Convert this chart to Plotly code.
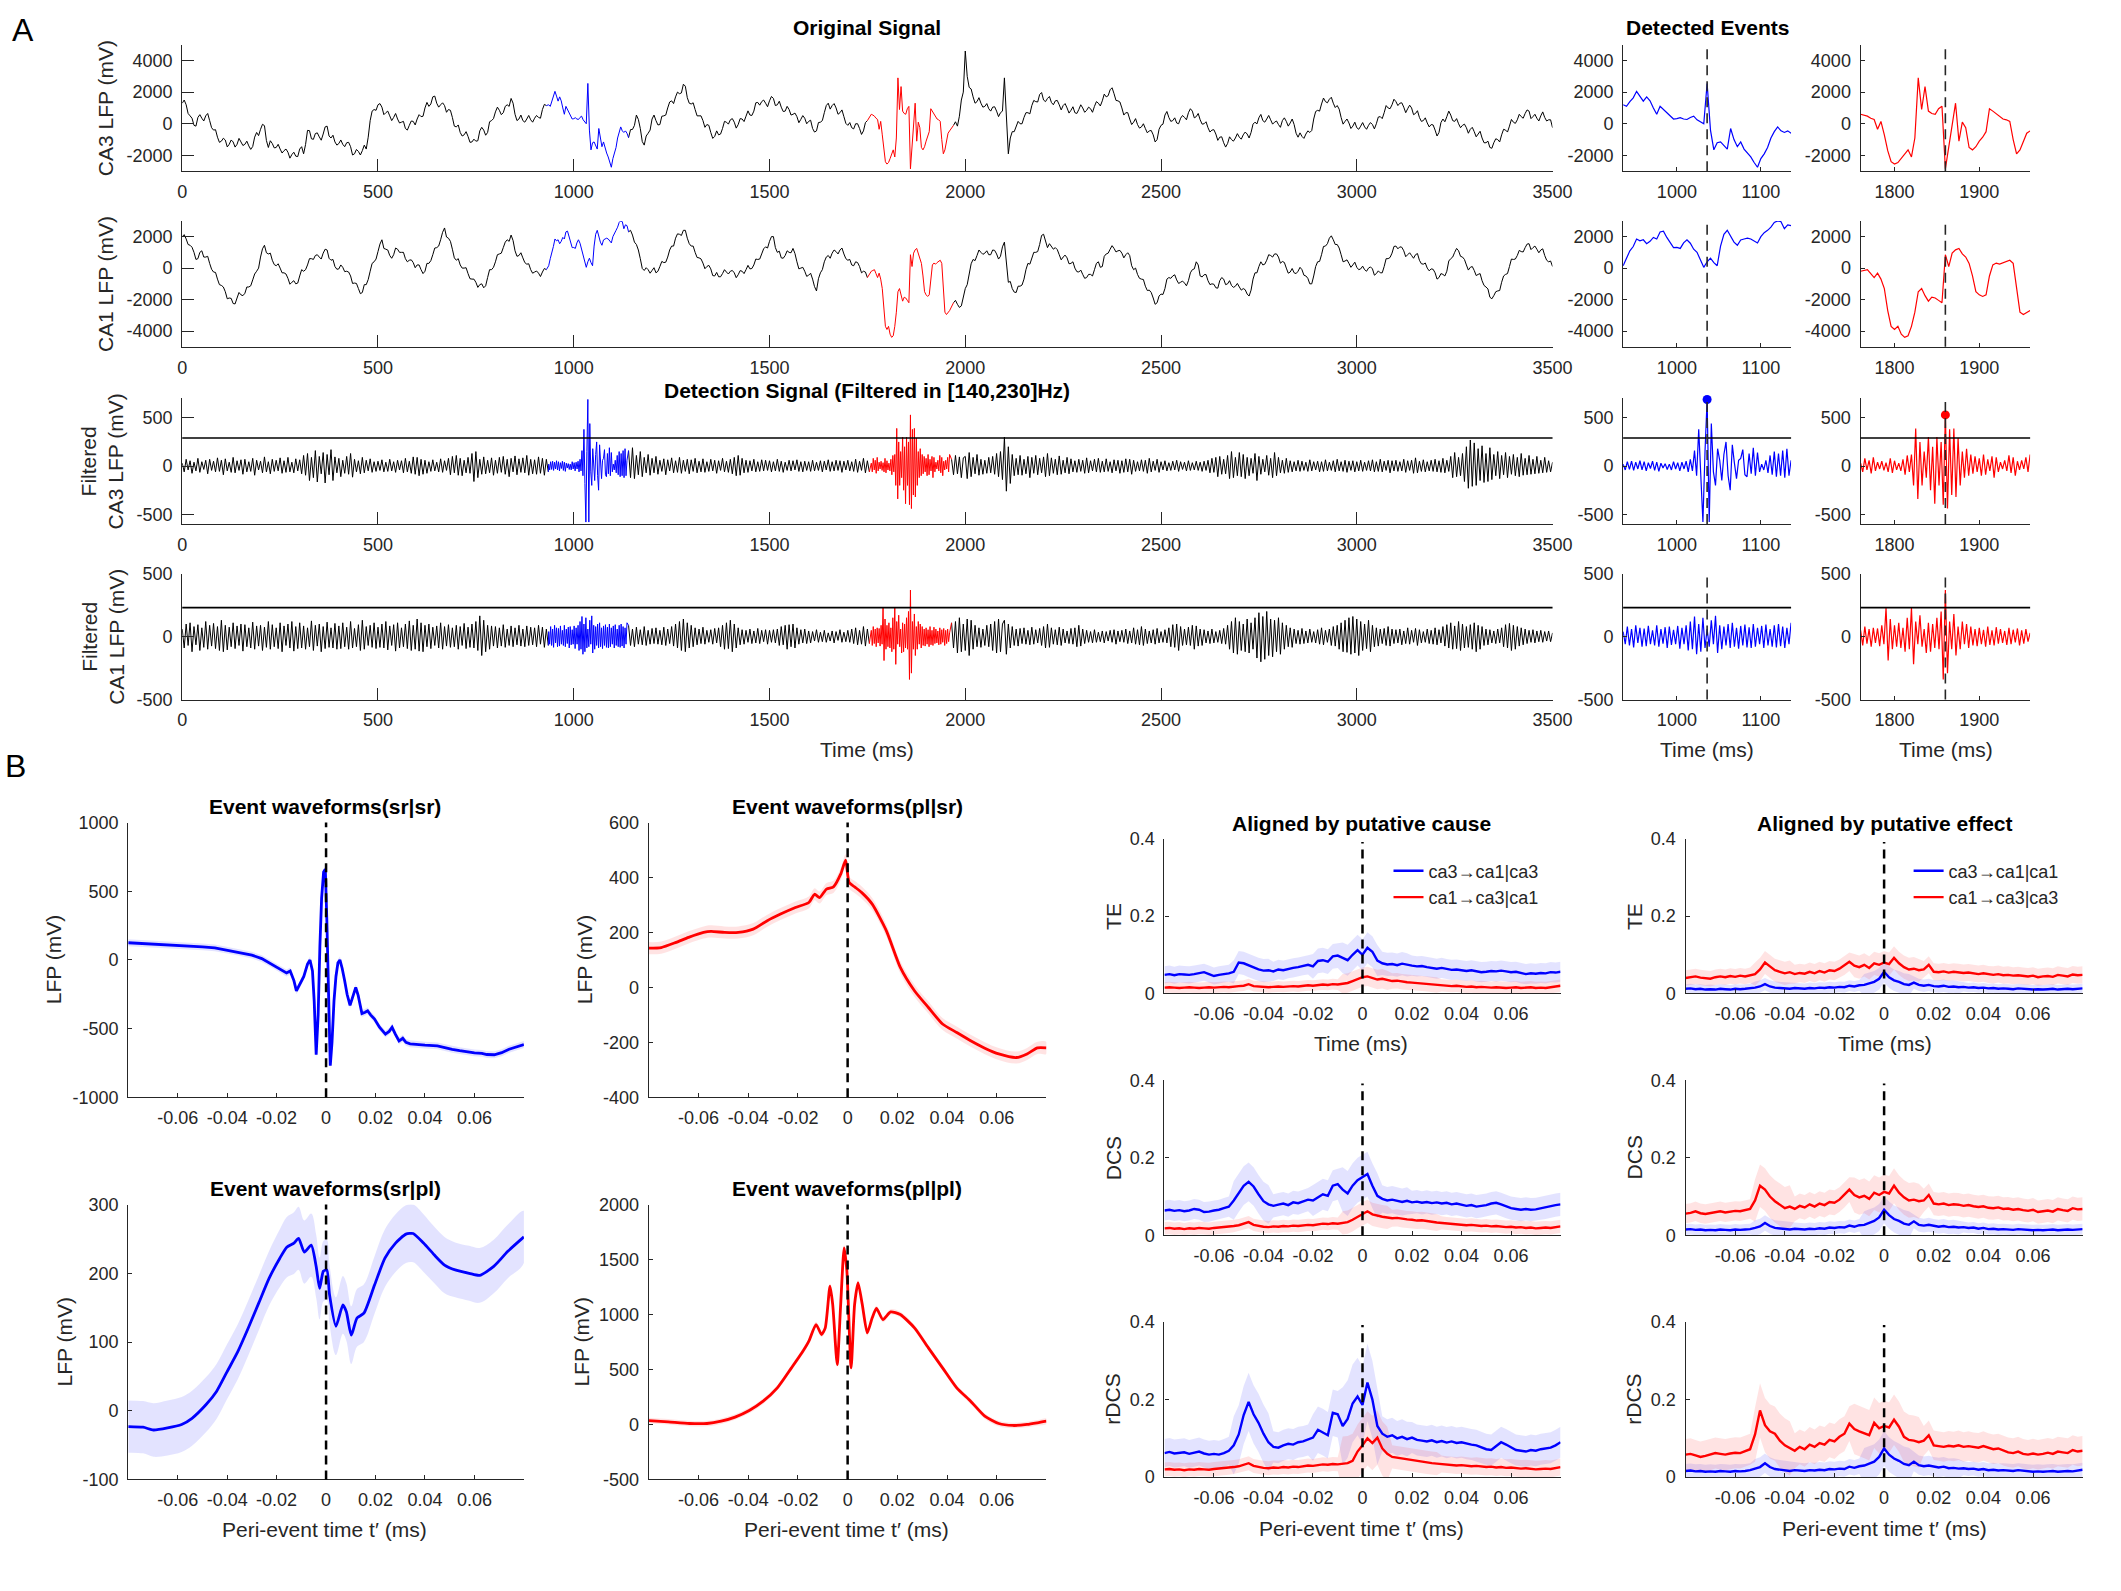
import numpy as np
import plotly.graph_objects as go

W, H = 2121, 1591
FONT = "Liberation Sans"
TC = "#262626"

# ------------------------------------------------------------------ DATA (A)
t_raw = np.arange(0, 3501, 5)          # raw LFP: values at 10 ms + in-between samples at 5 ms
t_filt = np.arange(0, 3501, 5)
event_times = [1036, 1860]
ev1_t_raw = np.arange(936, 1137, 4)
ev2_t_raw = np.arange(1760, 1961, 4)
ev1_t_filt = 936 + 2.5 * np.arange(81)
ev2_t_filt = 1760 + 2.5 * np.arange(81)
thresholds = [290, 230]
peak_vals = [690, 530]

ca3_raw = ([1300, 1200, 500, -100, 400, 350, 500, 200, -400, -850,
            -1100, -1030, -1300, -1150, -1300, -1150, -1300, -1400, -1440, -550,
            -350, -120, -1500, -1250, -1500, -1600, -1700, -1800, -1950, -2050,
            -1600, -1900, -420, -950, -620, -830, -650, -150, -900, -1150,
            -1250, -1300, -1200, -1450, -1900, -1750, -1700, -1600, 200, 900,
            1200, 1050, 700, 500, 400, 300, 100, -300, -100, 150,
            300, 450, 1000, 1100, 1700, 1300, 1200, 1150, 900, 400,
            -200, -550, -700, -800, -1150, -1100, -450, -400, -550, 200,
            750, 850, 700, 1200, 1600, 600, 300, 200, 300, 250,
            350, 400, 900, 1150] + [None] * 20 +
           [-880, -360, 550, -300, -1350, -600,
            300, 200, -50, 500, 1000, 1450, 1700, 1900, 2500, 1650,
            1250, 900, 500, 200, -50, -550, -800, -700, -300, 100,
            250, 100, -50, 300, 480, 550, 800, 1350, 1400, 1300,
            1450, 1600, 1200, 1050, 800, 900, 600, 450, 280, 350,
            150, -300, -450, 100, 700, 1300, 1150, 1000, 700, 450,
            -100, -250, 0, -300, -450, 200] + [None] * 21 +
           [-100, -150, 1500,
            4600, 2300, 1700, 1400, 1300, 1100, 950, 1050, 800, 700,
            2900, -1900, -500, -200, 0, 400, 700, 1150, 1400, 1850,
            1500, 1600, 1350, 1450, 1200, 1150, 1000, 850, 700, 900,
            1000, 850, 950, 1100, 1300, 1450, 1700, 2150, 1900, 1450,
            1000, 700, 300, 100, -50, -200, -300, -450, -700, -1000,
            -100, 550, 400, 200, 50, 350, 400, 700, 800, 450,
            250, 0, -250, -400, -650, -850, -1200, -1250, -1000, -900,
            -850, -700, -650, -550, 100, 380, 200, 300, 250, 100,
            -50, 200, 150, 50, -50, -850, -800, -650, -550, 300,
            850, 1250, 1400, 1550, 1300, 1150, 400, 150, 50, -150,
            -250, -150, -200, -100, -50, 0, 450, 700, 1000, 1200,
            1400, 1300, 1050, 950, 1000, 650, 400, 200, 50, -50,
            -400, -550, 300, 450, 550, 150, 0, -100, -250, -350,
            -500, -650, -900, -1200, -1500, -1200, -1000, -700, -400, -150,
            100, 250, 450, 650, 800, 450, 350, 500, 400, 250,
            -250])
ca3_raw_mid = ([1500, 650, 350, -150, 575, 175, 650, -250, -375, -1175,
                -915, -1465, -1025, -1475, -925, -1375, -1100, -1620, -845, -750,
                -35, -1060, -1075, -1525, -1300, -1850, -1600, -2175, -1800, -2075,
                -1450, -1310, -435, -985, -575, -1040, -200, -775, -725, -1350,
                -1025, -1450, -1175, -1975, -1625, -1975, -1350, -850, 800, 850,
                1275, 575, 800, 200, 650, 50, 150, -400, 175, -75,
                575, 475, 1350, 1250, 1750, 1050, 1325, 725, 850, -150,
                -75, -775, -500, -1175, -975, -1075, -225, -725, 125, 325,
                1050, 575, 1100, 1100, 1300, 200, 550, 100, 525, 100,
                525, 350, 1225, None] + [None] * 20 +
               [-370, -105, 275, -1125, -775, -400, 550, -75, 475, 550,
                1375, 1275, 2000, 1950, 2375, 1300, 1325, 500, 500, -225,
                -100, -925, -450, -650, 150, -25, 325, -275, 325, 140,
                815, 525, 1325, 1175, 1500, 1075, 1725, 1150, 1425, 775,
                1100, 550, 675, 65, 515, 0, 225, -525, 75, 200,
                1150, 925, 1275, 600, 875, 25, 75, -325, 0, -675,
                75] + [None] * 22 +
               [125, 475, 2000,
                3000, 2200, 1300, 1650, 1050, 1275, 800, 1075, 450, 800,
                300, -900, -500, 150, 0, 700, 625, 1475, 1375, 1975,
                1400, 1725, 1200, 1475, 875, 1275, 675, 1075, 650, 1200,
                725, 1050, 725, 1400, 1125, 1875, 1775, 2275, 1475, 1375,
                550, 700, -50, 325, -275, 0, -575, -425, -1150, -350,
                -25, 775, 150, 375, 0, 525, 250, 950, 375, 650,
                -25, 125, -525, -375, -1050, -825, -1475, -825, -1100, -625,
                -975, -525, -900, -25, -10, 590, 100, 525, -25, 175,
                -225, 375, -150, 300, -600, -575, -925, -450, -425, 775,
                800, 1625, 1325, 1675, 1025, 925, -25, 300, -300, 100,
                -350, 75, -350, 75, -325, 425, 325, 1150, 950, 1550,
                1150, 1325, 700, 1175, 575, 825, 150, 375, -200, -75,
                -775, 75, 125, 800, 200, 325, -250, -25, -600, -225,
                -825, -475, -1200, -1100, -1550, -950, -1150, -350, -525, 275,
                25, 600, 350, 875, 325, 600, 175, 750, 175, 250])

ca1_raw = ([2000, 1850, 1450, 1000, 600, 1100, 700, 300, -250, -700,
            -1100, -1500, -1900, -2250, -1900, -1700, -1600, -1200, -750, -200,
            700, 1450, 900, 500, 150, 0, -300, -650, -900, -1000,
            -500, -200, 200, 600, 800, 700, 950, 1150, 500, 100,
            -50, 50, -200, -500, -950, -1300, -1550, -1050, -200, 400,
            1050, 1800, 1200, 800, 850, 1200, 1000, 600, 500, 350,
            200, -100, -200, 300, 850, 1300, 1800, 2550, 1900, 1200,
            500, 200, 0, -350, -700, -900, -1050, -1250, -600, -100,
            400, 900, 1300, 1800, 2100, 1100, 800, 650, 250, -100,
            -250, -320, -250, -100] + [None] * 20 +
           [2300, 2100, 1500, 600, -150, -100,
            -150, -300, 100, 350, 700, 1400, 1900, 2150, 2400, 1900,
            1400, 1000, 650, 320, 100, -50, -500, -550, -350, -250,
            -200, -300, -420, -200, -100, -50, 200, 550, 900, 1350,
            1700, 2000, 1000, 650, 800, 1000, 1250, 400, 0, -200,
            -450, -700, -1450, -300, 400, 800, 950, 1050, 1150, 900,
            500, 200, 400, 100, -200, -600] + [None] * 21 +
           [-2200, -2300, -2400,
            -1300, -300, 550, 800, 1000, 950, 850, 1150, 900, 750,
            1650, -900, -1300, -1550, -1150, -700, 300, 700, 1000, 1500,
            2150, 1300, 1400, 1300, 850, 700, 650, 300, 0, -250,
            -400, -600, -400, -100, 400, 100, 900, 1200, 1250, 1100,
            950, 850, 800, -100, -400, -700, -1150, -1400, -1900, -2200,
            -1650, -1300, -600, -500, -750, -900, -950, -800, -100, 400,
            -500, -420, -800, -1000, -1250, -800, -700, -1000, -1100, -1150,
            -1200, -1300, -1650, -1400, -300, 100, 200, 500, 800, 900,
            700, 420, 0, -250, -300, -200, -100, -500, -1000, -500,
            400, 850, 1400, 1900, 1800, 1500, 850, 450, 300, 200,
            50, -50, -100, 0, -50, -350, -300, 100, 600, 950,
            1400, 1350, 1100, 850, 800, 850, 500, 250, 0, -50,
            -300, -600, -400, -200, 600, 1000, 1100, 700, 200, 50,
            -150, -400, -800, -1200, -1850, -1750, -1450, -900, -400, 100,
            550, 800, 1050, 1300, 1550, 1300, 1200, 1150, 800, 400,
            100])
ca1_raw_mid = ([2125, 1500, 1325, 550, 1000, 700, 750, -75, -275, -1050,
                -1200, -1950, -1925, -2275, -1550, -1750, -1200, -1125, -375, 0,
                1225, 975, 950, 225, 275, -300, -375, -1025, -800, -950,
                -100, -100, 600, 550, 850, 575, 1200, 625, 550, -75,
                200, -225, -250, -975, -975, -1625, -1050, -725, 300, 575,
                1525, 1250, 1150, 625, 1275, 1000, 1000, 400, 525, 25,
                200, -350, 300, 475, 1275, 1400, 2275, 1975, 1700, 650,
                600, 0, 25, -675, -700, -1225, -1000, -1125, -100, 50,
                850, 950, 1650, 1700, 1750, 750, 975, 350, 275, -325,
                -185, -535, -25, None] + [None] * 20 +
               [2400, 1650, 1150, -25, 25, -325, 25, -200, 425, 375,
                1150, 1400, 2175, 2075, 2400, 1550, 1400, 675, 585, -40,
                175, -475, -275, -550, -100, -375, -150, -610, -160, -350,
                175, -25, 575, 575, 1225, 1275, 2000, 1300, 1075, 625,
                1100, 975, 925, -50, 50, -525, -325, -1175, -675, -100,
                700, 625, 1150, 900, 1275, 600, 550, 150, 350, -300,
                -250] + [None] * 22 +
               [-2050, -2500, -1750,
                -1050, 275, 475, 1150, 875, 1100, 850, 1125, 575, 1350,
                175, -850, -1525, -1150, -1075, -100, 250, 1000, 1050, 2075,
                1625, 1550, 1200, 1175, 525, 825, 275, 400, -225, -125,
                -650, -400, -500, 300, 50, 750, 950, 1425, 1025, 1125,
                650, 975, 150, 0, -650, -725, -1425, -1550, -2300, -1775,
                -1675, -700, -650, -425, -975, -825, -1125, -300, -50, 200,
                -560, -410, -1050, -1025, -1275, -600, -1050, -800, -1225, -975,
                -1400, -1375, -1775, -700, -300, 400, 250, 850, 700, 900,
                310, 360, -325, -25, -350, 50, -450, -650, -1000, 100,
                425, 1375, 1550, 2050, 1500, 1275, 400, 525, 50, 375,
                -100, 125, -200, 75, -450, -175, -300, 600, 675, 1375,
                1225, 1325, 725, 975, 625, 925, 275, 325, -175, -75,
                -700, -350, -500, 450, 700, 1250, 750, 550, -125, 100,
                -475, -350, -1100, -1325, -1950, -1500, -1425, -500, -350, 575,
                575, 1125, 1025, 1525, 1175, 1400, 975, 1225, 500, 450])

ca3_ev1 = [1200, 1100, 1400, 1640, 2050, 1750, 1430, 1700, 1450, 1000,
           600, 1100, 900, 700, 560, 300, 320, 380, 300, 270,
           400, 480, 250, 100, 0, 2550, -400, -1650, -1200, -1150,
           -1400, -1600, -300, -1000, -1450, -1150, -1600, -1850, -2100, -2450,
           -2750, -2200, -1900, -1500, -900, -500, -200, -450, -550, -450, -600]
ca3_ev2 = [600, 550, 480, 350, 270, -350, 150, -700, -1700, -2400,
           -2550, -2450, -2200, -1900, -1650, -2100, -900, 2900, 900, 2350,
           800, 650, 600, 950, 1100, -2850, -1500, -50, 1300, -1100,
           100, -250, -1500, -1650, -1450, -1100, -850, -500, 950, 800,
           650, 500, 300, 250, 150, -1000, -1900, -1650, -1100, -600, -450]
ca1_ev1 = [150, 600, 1100, 1370, 1850, 1730, 1800, 1550, 1700, 1950,
           1850, 2300, 2350, 1950, 1600, 1300, 1310, 1250, 1600, 1800,
           1580, 1200, 1000, 500, 50, 400, 630, 350, 150, 1400,
           2150, 2400, 2000, 1650, 1450, 1790, 1850, 1900, 1850, 1700,
           1600, 2000, 2250, 2400, 2600, 2900, 3000, 2950, 2500, 2750, 2700]
ca1_ev2 = [-200, -150, -100, -350, -600, -320, -700, -1300, -2700, -3700,
           -3900, -3700, -4200, -4400, -4300, -3700, -2800, -1500, -1300, -1750,
           -2100, -1850, -1900, -2050, -2200, 850, 100, 950, 1160, 1250,
           900, 700, 300, -500, -1500, -1700, -1800, -1700, -500, 200,
           320, 250, 350, 420, 500, 300, -1300, -2800, -2950, -2850, -2700]

ca3_filt = ([30, -60, 70, -40, 55, -75, 40, -50, 80, -65, 45, -35, 60, -80, 70, -45, 50, -60, 85, -55,
             60, -90, 75, -50, 40, -65, 90, -70, 55, -45, 65, -85, 70, -60, 45, -55, 80, -95, 60, -40,
             50, -70, 95, -60, 45, -80, 70, -55, 60, -50, 85, -75, 55, -65, 90, -60, 40, -70, 75, -50,
             65, -80, 110, -95, 130, -150, 90, -120, 160, -165, 100, -80, 140, -175, 120, -90, 170, -150, 95, -70,
             80, -110, 60, -75, 100, -85, 130, -115, 70, -60, 55, -80, 90, -70, 60, -50, 75, -65, 45, -55,
             50, -45, 65, -60, 40, -55, 70, -50, 45, -65, 60, -40, 55, -70, 80, -60, 50, -75, 95, -85,
             90, -100, 70, -85, 60, -75, 45, -55, 65, -50, 40, -60, 75, -65, 55, -45, 80, -90, 100, -70,
             110, -95, 80, -100, 60, -70, 90, -75, 130, -160, 150, -120, 70, -85, 95, -80, 60, -70, 85, -95,
             60, -75, 90, -65, 100, -85, 70, -110, 80, -60, 105, -90, 75, -65, 85, -70, 110, -95, 70, -80,
             65, -85, 95, -75, 80, -95, 70, -60] + [None] * 40 +
            [160, -120, 190, -130, 110, -90, 150, -110, 90, -70, 120, -95,
             80, -70, 100, -85, 60, -55, 75, -90, 65, -50, 85, -70, 55, -65, 90, -75, 60, -55, 70, -80,
             65, -55, 80, -70, 50, -60, 75, -65, 45, -55, 70, -50, 60, -75, 55, -45, 80, -60, 50, -65,
             70, -80, 90, -100, 110, -95, 80, -70, 60, -65, 55, -50, 70, -60, 45, -55, 65, -50, 60, -45,
             55, -60, 45, -50, 70, -55, 50, -65, 40, -45, 60, -50, 55, -40, 65, -55, 45, -60, 50, -45,
             45, -55, 60, -50, 40, -45, 55, -60, 50, -40, 65, -55, 45, -50, 60, -45, 55, -65, 50, -40,
             60, -50, 45, -55, 70, -65, 50, -45, 80, -70, 55, -60] + [None] * 41 +
            [70, -90, 110, -80, 95, -120, 85,
             100, -130, 140, -110, 90, -80, 120, -95, 70, -85, 60, -75, 90, -70, 100, -85, 130, -110, 150, -140,
             300, -260, 200, -180, 120, -100, 80, -90, 110, -95, 70, -80, 100, -120, 90, -75, 110, -90, 80, -70,
             95, -110, 130, -100, 85, -75, 70, -90, 105, -85, 60, -70, 90, -80, 75, -60, 55, -65, 70, -55,
             60, -75, 85, -70, 55, -50, 70, -60, 80, -65, 50, -60, 75, -55, 45, -70, 65, -50, 60, -75,
             55, -65, 75, -60, 70, -85, 60, -55, 45, -50, 65, -55, 60, -75, 80, -60, 50, -45, 70, -65,
             45, -40, 55, -50, 35, -45, 50, -40, 60, -55, 45, -35, 40, -50, 55, -45, 35, -40, 50, -45,
             40, -55, 50, -45, 60, -70, 80, -65, 90, -110, 100, -85, 70, -80, 110, -130, 150, -120, 90, -100,
             140, -110, 120, -130, 90, -100, 80, -75, 130, -150, 100, -85, 70, -60, 110, -95, 80, -120, 140, -100,
             90, -70, 60, -75, 80, -65, 55, -60, 45, -50, 60, -55, 50, -45, 40, -55, 65, -50, 45, -40,
             50, -60, 45, -55, 65, -50, 40, -45, 55, -60, 70, -50, 45, -55, 60, -65, 50, -45, 55, -60,
             45, -50, 60, -55, 40, -45, 55, -50, 65, -60, 45, -55, 70, -60, 50, -45, 60, -70, 55, -50,
             60, -55, 45, -50, 70, -65, 55, -45, 60, -75, 85, -70, 50, -55, 65, -60, 45, -50, 60, -55,
             70, -60, 55, -65, 80, -70, 60, -55, 100, -120, 140, -110, 90, -100, 130, -160, 200, -230, 270, -210,
             240, -200, 180, -150, 210, -170, 130, -160, 190, -140, 120, -100, 150, -130, 110, -90, 140, -120, 100, -85,
             120, -100, 90, -110, 130, -95, 80, -90, 110, -85, 70, -80, 100, -75, 60, -70, 90, -65, 55, -60,
             40])

ca1_filt = ([60, -90, 100, -70, 110, -120, 80, -65, 95, -110, 70, -85, 120, -100, 90, -75, 105, -95, 80, -110,
             130, -120, 90, -105, 75, -80, 110, -95, 85, -70, 100, -115, 95, -80, 70, -90, 115, -100, 85, -75,
             90, -110, 75, -85, 120, -100, 95, -80, 70, -95, 110, -120, 85, -70, 100, -90, 120, -115, 80, -95,
             110, -90, 85, -100, 70, -80, 125, -110, 90, -75, 100, -120, 80, -95, 115, -85, 70, -90, 105, -100,
             85, -95, 110, -80, 75, -100, 120, -90, 65, -80, 95, -110, 130, -100, 80, -70, 90, -85, 110, -95,
             75, -85, 100, -90, 120, -105, 85, -70, 95, -115, 110, -90, 70, -80, 100, -95, 125, -110, 90, -100,
             140, -115, 110, -120, 90, -80, 100, -95, 75, -70, 85, -90, 110, -100, 80, -75, 95, -85, 70, -80,
             90, -100, 80, -70, 105, -95, 75, -85, 100, -90, 120, -110, 165, -150, 130, -120, 90, -100, 85, -75,
             80, -90, 70, -75, 95, -85, 60, -70, 85, -80, 70, -65, 90, -75, 60, -80, 85, -70, 75, -65,
             70, -80, 90, -60, 75, -85, 60, -70] + [None] * 40 +
            [90, -70, 60, -80, 75, -60, 55, -65, 80, -70, 50, -60,
             65, -55, 70, -60, 50, -65, 75, -70, 60, -55, 80, -75, 100, -90, 120, -110, 140, -120, 110, -90,
             90, -80, 70, -65, 60, -55, 75, -60, 50, -45, 55, -60, 65, -50, 70, -80, 90, -100, 110, -95,
             130, -120, 100, -90, 70, -65, 55, -60, 50, -45, 60, -55, 45, -50, 65, -55, 50, -40, 55, -60,
             50, -45, 55, -50, 60, -70, 80, -65, 90, -100, 95, -80, 100, -90, 70, -60, 55, -50, 60, -55,
             45, -50, 40, -35, 55, -45, 35, -40, 50, -45, 30, -35, 45, -50, 40, -30, 55, -45, 35, -40,
             50, -45, 60, -55, 70, -65, 50, -60, 80, -75, 60, -55] + [None] * 41 +
            [110, -90, 120, -130, 150, -120, 100,
             -110, 140, -150, 130, -100, 90, -80, 70, -85, 60, -70, 90, -80, 100, -110, 120, -130, 140, -120, 100,
             130, -140, 100, -90, 80, -70, 60, -75, 65, -55, 70, -60, 50, -65, 75, -60, 55, -50, 65, -70,
             80, -90, 100, -85, 70, -60, 55, -65, 75, -70, 60, -50, 45, -55, 65, -60, 70, -80, 90, -75,
             60, -55, 50, -45, 40, -50, 55, -45, 35, -40, 45, -50, 40, -35, 50, -45, 55, -60, 45, -40,
             50, -45, 60, -55, 45, -50, 70, -60, 55, -65, 80, -70, 60, -55, 45, -50, 55, -60, 65, -50,
             40, -45, 55, -50, 70, -80, 95, -85, 100, -110, 80, -70, 60, -65, 75, -70, 90, -100, 85, -75,
             60, -70, 55, -50, 45, -55, 60, -50, 40, -45, 50, -55, 65, -60, 90, -100, 120, -130, 150, -140,
             120, -110, 100, -120, 140, -130, 110, -100, 150, -170, 190, -200, 160, -180, 200, -150, 140, -160, 130, -120,
             150, -140, 110, -100, 90, -80, 70, -85, 60, -55, 50, -60, 65, -55, 45, -50, 60, -45, 40, -50,
             55, -60, 70, -65, 50, -45, 60, -70, 80, -75, 90, -100, 110, -120, 130, -125, 150, -140, 160, -130,
             140, -150, 120, -110, 100, -95, 130, -120, 90, -80, 70, -75, 60, -55, 65, -70, 80, -75, 60, -55,
             55, -50, 60, -65, 45, -55, 70, -60, 50, -45, 65, -70, 55, -50, 40, -45, 60, -55, 50, -60,
             70, -65, 55, -50, 80, -75, 95, -90, 110, -100, 85, -95, 120, -110, 100, -90, 80, -85, 95, -100,
             110, -120, 90, -100, 80, -70, 60, -65, 55, -50, 45, -55, 60, -50, 70, -80, 95, -90, 105, -110,
             90, -100, 80, -75, 70, -65, 60, -55, 50, -45, 55, -50, 45, -40, 50, -45, 40, -35, 45, -40,
             30])

ca3_f_ev1 = [20, -40, 45, -35, 50, -45, 40, -30, 55, -40,
             45, -50, 35, -25, 50, -45, 40, -55, 30, -20,
             25, -35, 20, -40, 45, -30, 35, -50, 40, -30,
             50, -60, 70, -50, 160, -100, 380, -180, -580, 150,
             690, -580, 440, -60, -200, 180, 60, -150, 120, 250,
             -100, -250, 220, 30, -130, 60, 80, 170, -90, -110,
             130, -80, 190, -100, 140, -60, 20, -40, 60, -70,
             110, -90, 150, -110, 130, -100, 160, -120, 180, -100, 60]
ca3_f_ev2 = [30, -60, 80, -40, 60, -75, 90, -50, 40, -30,
             50, -45, 35, -60, 80, -70, 55, -40, 30, -50,
             70, -90, 110, -60, 120, -200, 390, -340, 250, -200,
             150, -120, 300, -250, 200, -390, 300, -200, 250, -400,
             530, -440, 380, -300, 390, -320, 290, -200, 150, -120,
             180, -100, 120, -80, 100, -60, 80, -100, 120, -90,
             70, -50, 100, -120, 90, -60, 40, -30, 60, -50,
             110, -70, 90, -100, 50, -40, 60, -30, 90, -60, 120]
ca1_f_ev1 = [40, -60, 80, -70, 60, -85, 90, -50, 70, -80,
             65, -75, 85, -60, 50, -70, 90, -80, 60, -55,
             75, -90, 80, -65, 55, -60, 85, -95, 70, -60,
             90, -110, 120, -100, 160, -140, 100, -120, 150, -90,
             60, -80, 130, -60, 165, -130, 90, -100, 80, -70,
             100, -90, 110, -80, 70, -95, 85, -70, 95, -85,
             75, -90, 100, -80, 70, -60, 85, -90, 95, -70,
             60, -80, 90, -85, 100, -75, 80, -90, 70, -60, 110]
ca1_f_ev2 = [50, -70, 80, -55, 60, -80, 70, -50, 65, -75,
             90, -60, 230, -190, 140, -100, 90, -80, 110, -90,
             70, -120, 150, -100, 230, -220, 120, -60, 170, -80,
             60, -130, 110, -120, 100, -90, 150, -100, 200, -340,
             370, -290, 120, -100, 180, -150, 80, -100, 120, -60,
             100, -90, 80, -70, 60, -75, 70, -60, 55, -80,
             80, -65, 50, -70, 75, -55, 60, -50, 45, -65,
             70, -60, 55, -45, 65, -70, 50, -55, 60, -40, 30]

# ------------------------------------------------------------------ DATA (B)
srsr_t = [-0.080, -0.075, -0.070, -0.065, -0.060, -0.055, -0.050, -0.045, -0.040, -0.035,
          -0.030, -0.026, -0.022, -0.019, -0.016, -0.0145, -0.013, -0.012, -0.0105, -0.009,
          -0.0075, -0.0065, -0.0055, -0.0048, -0.004, -0.0032, -0.0025, -0.0018, -0.001, -0.0003,
          0.0003, 0.001, 0.0017, 0.0024, 0.0032, 0.004, 0.0048, 0.0056, 0.0065, 0.0075,
          0.0085, 0.0097, 0.011, 0.012, 0.013, 0.0145, 0.0158, 0.0168, 0.018, 0.0196,
          0.0216, 0.024, 0.0255, 0.0267, 0.028, 0.0295, 0.031, 0.0323, 0.034, 0.0366,
          0.040, 0.045, 0.048, 0.051, 0.054, 0.057, 0.060, 0.063, 0.065, 0.068,
          0.071, 0.074, 0.077, 0.080]
srsr_v = [125, 120, 118, 115, 110, 100, 95, 88, 70, 55,
          35, 10, -30, -60, -95, -80, -150, -225, -170, -120,
          -30, 0, -80, -300, -690, -400, 100, 450, 640, 660,
          300, -300, -770, -600, -300, -120, -20, 0, -60, -150,
          -250, -330, -250, -200, -260, -390, -380, -370, -400, -430,
          -490, -540, -520, -490, -540, -590, -570, -600, -610, -615,
          -620, -625, -640, -650, -660, -670, -676, -680, -688, -690,
          -675, -650, -630, -615]
srsr_sem = [25] * 74

plsr_t = [-0.080, -0.075, -0.069, -0.064, -0.058, -0.055, -0.0495, -0.044, -0.038, -0.0325,
          -0.027, -0.021, -0.0156, -0.0133, -0.0113, -0.0085, -0.0057, -0.0028, -0.0008, 0.0006,
          0.0028, 0.0057, 0.0099, 0.0156, 0.0212, 0.0269, 0.0325, 0.0382, 0.0439, 0.0495,
          0.0552, 0.0608, 0.0679, 0.0722, 0.0764, 0.080]
plsr_v = [143, 145, 164, 182, 200, 204, 200, 200, 212, 242,
          267, 291, 309, 339, 327, 358, 366, 412, 463, 382,
          366, 345, 303, 206, 73, -12, -73, -133, -164, -194,
          -221, -242, -255, -242, -220, -220]
plsr_sem = [22] * 36

srpl_t = [-0.080, -0.074, -0.0698, -0.0641, -0.0584, -0.0542, -0.0485, -0.0443, -0.040, -0.0357,
          -0.0315, -0.0272, -0.023, -0.0187, -0.0159, -0.013, -0.0111, -0.0088, -0.006, -0.004,
          -0.0026, -0.0011, 0.0003, 0.0014, 0.004, 0.0068, 0.0082, 0.0102, 0.0125, 0.0153,
          0.0196, 0.0238, 0.0281, 0.0323, 0.0352, 0.0394, 0.0437, 0.0479, 0.0522, 0.0579,
          0.0621, 0.0678, 0.0735, 0.080]
srpl_v = [-23, -24, -28, -25, -20, -11, 9, 28, 57, 86,
          120, 157, 193, 222, 238, 244, 251, 231, 241, 210,
          178, 203, 205, 169, 123, 154, 144, 110, 135, 142,
          183, 222, 244, 257, 258, 244, 227, 212, 205, 200,
          197, 210, 232, 253]
srpl_sem = [38, 38, 39, 40, 40, 40, 40, 40, 40, 40,
            40, 40, 40, 42, 44, 45, 46, 46, 46, 46,
            45, 44, 44, 43, 42, 42, 42, 42, 42, 42,
            42, 42, 42, 42, 42, 42, 41, 41, 40, 40,
            40, 39, 39, 38]

plpl_t = [-0.080, -0.0722, -0.0637, -0.0566, -0.0509, -0.0453, -0.0396, -0.034, -0.0283, -0.0226,
          -0.0184, -0.0156, -0.0127, -0.0105, -0.009, -0.0071, -0.006, -0.0042, -0.0028, -0.0014,
          -0.0003, 0.0014, 0.0028, 0.0042, 0.0059, 0.0079, 0.0099, 0.0116, 0.0142, 0.0173,
          0.0212, 0.0269, 0.0325, 0.0382, 0.0439, 0.0495, 0.0552, 0.0608, 0.0665, 0.0722,
          0.0764, 0.080]
plpl_v = [36, 24, 9, 9, 30, 67, 127, 212, 333, 515,
          652, 758, 909, 818, 879, 1258, 1091, 545, 1091, 1606,
          1394, 515, 1091, 1288, 1091, 833, 970, 1055, 955, 1024,
          1000, 879, 697, 515, 333, 212, 76, 9, -9, 0,
          15, 30]
plpl_sem = [25] * 42

t_te = np.round(np.arange(-0.080, 0.0801, 0.002), 3)

te_cause_blue = [.048, .050, .047, .050, .049, .048, .050, .052, .055, .050,
                 .045, .048, .050, .052, .056, .080, .078, .072, .066, .062,
                 .059, .060, .057, .062, .060, .064, .066, .068, .072, .074,
                 .070, .084, .086, .082, .096, .098, .092, .086, .100, .112,
                 .100, .118, .108, .085, .078, .075, .076, .073, .077, .074,
                 .072, .070, .071, .068, .066, .064, .066, .063, .061, .062,
                 .060, .058, .060, .057, .055, .056, .058, .057, .059, .057,
                 .055, .056, .052, .050, .052, .051, .053, .052, .055, .054, .056]
te_cause_red = [.015, .016, .015, .014, .015, .016, .015, .014, .015, .016,
                .015, .016, .017, .016, .018, .019, .020, .024, .019, .018,
                .017, .016, .017, .018, .017, .018, .019, .018, .020, .021,
                .020, .022, .023, .022, .024, .023, .025, .027, .032, .038,
                .042, .044, .040, .036, .038, .034, .032, .033, .030, .029,
                .028, .027, .026, .025, .024, .022, .021, .020, .019, .020,
                .018, .017, .018, .016, .017, .016, .015, .016, .015, .014,
                .015, .016, .014, .015, .016, .014, .015, .014, .016, .018, .020]
te_effect_red = [.040, .042, .044, .041, .040, .038, .042, .044, .042, .045,
                 .043, .046, .044, .047, .050, .062, .080, .070, .060, .056,
                 .052, .055, .050, .053, .051, .056, .052, .058, .054, .060,
                 .058, .064, .072, .082, .072, .068, .074, .066, .078, .074,
                 .080, .076, .092, .078, .068, .062, .064, .060, .062, .074,
                 .056, .055, .057, .054, .056, .055, .053, .054, .052, .050,
                 .052, .049, .048, .050, .047, .048, .046, .047, .045, .044,
                 .046, .042, .044, .045, .043, .048, .046, .044, .049, .047, .048]
te_effect_blue = [.012, .013, .011, .012, .010, .011, .010, .012, .011, .010,
                  .012, .011, .012, .013, .015, .018, .024, .018, .015, .014,
                  .013, .012, .014, .013, .012, .014, .013, .015, .014, .016,
                  .015, .017, .016, .020, .018, .021, .022, .026, .030, .038,
                  .056, .042, .034, .030, .024, .022, .028, .022, .020, .022,
                  .019, .018, .020, .017, .018, .016, .017, .015, .016, .014,
                  .015, .013, .014, .012, .013, .012, .011, .013, .012, .011,
                  .010, .011, .010, .011, .012, .010, .011, .012, .011, .012, .013]
dcs_cause_blue = [.064, .066, .063, .065, .062, .064, .068, .066, .060, .061,
                  .064, .066, .070, .074, .090, .110, .128, .138, .126, .106,
                  .088, .080, .076, .079, .082, .078, .085, .083, .088, .092,
                  .090, .098, .106, .102, .128, .132, .118, .108, .128, .142,
                  .150, .158, .128, .102, .094, .090, .092, .088, .086, .089,
                  .085, .087, .084, .086, .083, .085, .082, .084, .080, .082,
                  .079, .076, .078, .074, .076, .078, .082, .084, .080, .074,
                  .070, .068, .066, .068, .066, .067, .070, .072, .074, .078, .080]
dcs_cause_red = [.018, .019, .017, .018, .016, .018, .017, .019, .018, .017,
                 .019, .020, .021, .022, .024, .026, .030, .034, .027, .024,
                 .022, .021, .023, .022, .024, .023, .025, .024, .026, .027,
                 .026, .028, .030, .029, .031, .030, .032, .034, .040, .048,
                 .056, .062, .054, .050, .048, .046, .044, .045, .042, .041,
                 .040, .038, .039, .036, .035, .033, .032, .030, .029, .028,
                 .027, .026, .027, .025, .024, .025, .023, .024, .022, .021,
                 .022, .020, .021, .019, .020, .018, .019, .020, .019, .021, .023]
dcs_effect_red = [.056, .058, .062, .057, .055, .058, .060, .062, .059, .061,
                  .063, .062, .065, .068, .090, .128, .118, .100, .088, .078,
                  .070, .074, .068, .076, .072, .080, .074, .082, .078, .086,
                  .084, .092, .104, .118, .104, .098, .102, .094, .110, .104,
                  .112, .108, .128, .110, .098, .090, .092, .088, .090, .104,
                  .082, .080, .082, .078, .080, .079, .076, .078, .075, .073,
                  .075, .071, .070, .072, .068, .069, .066, .068, .065, .063,
                  .066, .060, .062, .064, .061, .068, .065, .063, .070, .067, .068]
dcs_effect_blue = [.015, .016, .014, .015, .013, .014, .013, .015, .014, .013,
                   .015, .014, .015, .016, .019, .023, .032, .024, .019, .018,
                   .016, .015, .017, .016, .015, .017, .016, .018, .017, .020,
                   .019, .021, .020, .025, .022, .026, .027, .032, .037, .046,
                   .066, .052, .042, .037, .030, .027, .036, .027, .025, .027,
                   .024, .022, .024, .021, .022, .020, .021, .019, .020, .017,
                   .019, .016, .017, .015, .016, .015, .014, .016, .015, .014,
                   .013, .014, .013, .014, .015, .013, .014, .015, .014, .015, .016]
rdcs_cause_blue = [.062, .065, .061, .063, .064, .060, .063, .066, .061, .058,
                   .060, .058, .062, .068, .082, .110, .160, .194, .162, .140,
                   .112, .090, .078, .076, .082, .086, .084, .090, .092, .096,
                   .102, .122, .116, .108, .166, .162, .132, .150, .190, .208,
                   .186, .244, .200, .132, .112, .104, .108, .100, .104, .098,
                   .102, .096, .094, .092, .095, .090, .093, .089, .092, .088,
                   .090, .086, .084, .082, .076, .072, .070, .080, .090, .084,
                   .076, .070, .068, .066, .070, .068, .072, .074, .076, .082, .090]
rdcs_cause_red = [.020, .021, .019, .020, .018, .020, .019, .021, .020, .019,
                  .021, .022, .023, .024, .026, .028, .032, .036, .029, .026,
                  .024, .023, .025, .024, .026, .025, .027, .026, .028, .030,
                  .029, .031, .033, .032, .034, .033, .035, .036, .042, .066,
                  .082, .100, .088, .102, .074, .060, .052, .050, .047, .046,
                  .044, .042, .040, .038, .036, .035, .034, .032, .031, .030,
                  .031, .029, .028, .029, .027, .026, .027, .025, .026, .024,
                  .025, .023, .022, .023, .021, .020, .021, .022, .021, .023, .026]
rdcs_effect_red = [.058, .060, .056, .052, .055, .058, .062, .060, .058, .061,
                   .063, .062, .066, .072, .110, .172, .134, .118, .112, .094,
                   .082, .074, .068, .078, .072, .084, .078, .088, .084, .096,
                   .092, .104, .112, .138, .124, .118, .114, .108, .140, .126,
                   .132, .128, .148, .130, .104, .096, .094, .090, .094, .108,
                   .082, .080, .078, .081, .079, .082, .078, .080, .077, .076,
                   .080, .075, .072, .074, .068, .064, .062, .066, .060, .058,
                   .061, .058, .060, .063, .060, .066, .064, .062, .070, .066, .068]
rdcs_effect_blue = [.016, .017, .015, .016, .014, .015, .014, .016, .015, .014,
                    .016, .015, .016, .018, .022, .026, .036, .026, .021, .019,
                    .017, .016, .018, .017, .016, .018, .017, .019, .018, .021,
                    .020, .022, .021, .027, .024, .028, .030, .035, .040, .052,
                    .074, .058, .048, .042, .034, .031, .040, .031, .028, .030,
                    .027, .025, .027, .023, .024, .022, .023, .021, .022, .019,
                    .021, .018, .019, .017, .018, .017, .016, .018, .017, .015,
                    .014, .015, .014, .015, .016, .014, .015, .016, .015, .017, .019]

te_cause_blue_sem = [.022]*14 + [.03]*8 + [.025]*8 + [.032]*6 + [.04]*8 + [.03]*6 + [.026]*31
te_cause_red_sem = [.014]*36 + [.025]*10 + [.02]*10 + [.016]*25
te_effect_red_sem = [.02]*14 + [.03]*8 + [.024]*12 + [.03]*14 + [.022]*33
te_effect_blue_sem = [.012]*14 + [.016]*8 + [.014]*14 + [.028]*10 + [.016]*10 + [.012]*25
dcs_cause_blue_sem = [.026]*14 + [.05]*8 + [.03]*8 + [.04]*6 + [.058]*8 + [.035]*6 + [.03]*31
dcs_cause_red_sem = [.016]*36 + [.03]*10 + [.022]*10 + [.017]*25
dcs_effect_red_sem = [.025]*14 + [.055]*8 + [.032]*12 + [.045]*14 + [.03]*33
dcs_effect_blue_sem = [.014]*14 + [.02]*8 + [.016]*14 + [.035]*10 + [.018]*10 + [.014]*25
rdcs_cause_blue_sem = [.036]*14 + [.075]*8 + [.04]*8 + [.06]*6 + [.1]*8 + [.045]*6 + [.04]*31
rdcs_cause_red_sem = [.018]*36 + [.07]*10 + [.03]*10 + [.022]*25
rdcs_effect_red_sem = [.04]*14 + [.07]*8 + [.045]*12 + [.065]*14 + [.038]*33
rdcs_effect_blue_sem = [.018]*14 + [.025]*8 + [.02]*14 + [.045]*10 + [.025]*10 + [.018]*25

legend_cause = ["ca3\u2192ca1|ca3", "ca1\u2192ca3|ca1"]
legend_effect = ["ca3\u2192ca1|ca1", "ca1\u2192ca3|ca3"]

# ------------------------------------------------------------------ FIGURE
BLUE, RED = "#0000FF", "#FF0000"
BLUE_F, RED_F = "rgba(0,0,255,0.11)", "rgba(255,0,0,0.11)"
layout = {}
traces = []
shapes = []
annotations = []

# page-capture calibration (target pixel -> figure pixel)
SC, OX, OY = 0.988, 3.8, 8.0


def X(p):
    return (p - OX) / SC


def Y(p):
    return (p - OY) / SC


def sfx(n):
    return "" if n == 1 else str(n)


def fmt(v):
    return "0" if v == 0 else ("%g" % v)


def interleave(a, m):
    out = []
    for i in range(len(a) - 1):
        out.append(a[i])
        out.append(m[i] if i < len(m) else None)
    out.append(a[-1])
    return out


def axes(n, xpx, ypx, xr, yr, xt, yt, tl):
    s = sfx(n)
    common = dict(showline=True, linecolor=TC, linewidth=1.2, ticks="inside", ticklen=tl,
                  tickwidth=1.2, tickcolor=TC, showgrid=False, zeroline=False,
                  tickfont=dict(family=FONT, size=18, color=TC), fixedrange=True)
    layout["xaxis" + s] = dict(domain=[X(xpx[0]) / W, X(xpx[1]) / W], range=xr, anchor="y" + s,
                               tickmode="array", tickvals=xt, ticktext=[fmt(v) for v in xt],
                               ticklabelstandoff=4, **common)
    layout["yaxis" + s] = dict(domain=[1 - Y(ypx[1]) / H, 1 - Y(ypx[0]) / H], range=yr,
                               anchor="x" + s, tickmode="array", tickvals=yt,
                               ticktext=[fmt(v) for v in yt], ticklabelstandoff=5, **common)


def line(n, x, y, color, width, name=None, legend=None, shape="linear"):
    s = sfx(n)
    m = min(len(x), len(y))
    if name is not None:
        kw = dict(name=name, showlegend=True, legend=legend)
    else:
        kw = dict(showlegend=False)
    traces.append(go.Scatter(x=list(x)[:m], y=list(y)[:m], xaxis="x" + s, yaxis="y" + s,
                             mode="lines", line=dict(color=color, width=width, shape=shape,
                                                     smoothing=0.6 if shape == "spline" else None),
                             hoverinfo="skip", connectgaps=False, **kw))


def band(n, t, m, hw, fill, shape="linear"):
    s = sfx(n)
    k = min(len(t), len(m), len(hw))
    t = list(t)[:k]
    up = [a + b for a, b in zip(m[:k], hw[:k])]
    lo = [a - b for a, b in zip(m[:k], hw[:k])]
    traces.append(go.Scatter(x=t + t[::-1], y=up + lo[::-1], xaxis="x" + s, yaxis="y" + s,
                             mode="lines", fill="toself", fillcolor=fill,
                             line=dict(width=0, shape=shape), hoverinfo="skip", showlegend=False))


def vline(n, x, y0=0, y1=1, width=2.5, dash="9px,6px", color="black"):
    s = sfx(n)
    shapes.append(dict(type="line", xref="x" + s, yref="y" + s + " domain", x0=x, x1=x,
                       y0=y0, y1=y1, line=dict(color=color, width=width, dash=dash)))


def hline(n, y):
    s = sfx(n)
    shapes.append(dict(type="line", xref="x" + s + " domain", yref="y" + s, x0=0, x1=1,
                       y0=y, y1=y, line=dict(color="black", width=1.6)))


def text(x, y, s, size=21, bold=False, angle=0, color=TC):
    annotations.append(dict(x=X(x) / W, y=1 - Y(y) / H, xref="paper", yref="paper",
                            text=("<b>" + s + "</b>") if bold else s,
                            showarrow=False, textangle=angle, xanchor="center", yanchor="middle",
                            font=dict(family=FONT, size=size, color=color)))


def bridge(tg, vals, td, vd):
    tg = list(tg)
    before = [i for i, t in enumerate(tg) if t < td[0] and vals[i] is not None][-1]
    after = [i for i, t in enumerate(tg) if t > td[-1] and vals[i] is not None][0]
    return [tg[before]] + list(td) + [tg[after]], [vals[before]] + list(vd) + [vals[after]]


# ---- Section A axes
main_x = (181, 1551)
ev_x = [(1621.6, 1789.5), (1859, 2028.5)]
rows_y = [(42.7, 169.3), (219, 345), (396.7, 522.3), (572, 698)]
rows_yr = [[-3000, 5000], [-5000, 3000], [-600, 700], [-500, 500]]
rows_yt = [[-2000, 0, 2000, 4000], [-4000, -2000, 0, 2000], [-500, 0, 500], [-500, 0, 500]]
ev_ranges = [[936, 1136], [1760, 1960]]
ev_ticks = [[1000, 1100], [1800, 1900]]

for r in range(4):
    n0 = 1 + 3 * r
    axes(n0, main_x, rows_y[r], [0, 3500], rows_yr[r], list(range(0, 3501, 500)), rows_yt[r], 12)
    for e in range(2):
        axes(n0 + 1 + e, ev_x[e], rows_y[r], ev_ranges[e], rows_yr[r], ev_ticks[e], rows_yt[r], 4)

raw_sets = [(interleave(ca3_raw, ca3_raw_mid), ca3_ev1, ca3_ev2),
            (interleave(ca1_raw, ca1_raw_mid), ca1_ev1, ca1_ev2)]
filt_sets = [(ca3_filt, ca3_f_ev1, ca3_f_ev2), (ca1_filt, ca1_f_ev1, ca1_f_ev2)]
for r, (full, e1, e2) in enumerate(raw_sets):
    n0 = 1 + 3 * r
    line(n0, t_raw, full, "black", 1.0)
    bx, by = bridge(t_raw, full, ev1_t_raw, e1)
    line(n0, bx, by, BLUE, 1.0)
    bx, by = bridge(t_raw, full, ev2_t_raw, e2)
    line(n0, bx, by, RED, 1.0)
    line(n0 + 1, ev1_t_raw, e1, BLUE, 1.2)
    line(n0 + 2, ev2_t_raw, e2, RED, 1.2)
    for e in range(2):
        vline(n0 + 1 + e, event_times[e], 0, 0.97, width=1.6, dash="10px,6px", color=TC)

for r, (full, e1, e2) in enumerate(filt_sets):
    n0 = 7 + 3 * r
    line(n0, t_filt, full, "black", 1.0)
    bx, by = bridge(t_filt, full, ev1_t_filt, e1)
    line(n0, bx, by, BLUE, 1.0)
    bx, by = bridge(t_filt, full, ev2_t_filt, e2)
    line(n0, bx, by, RED, 1.0)
    line(n0 + 1, ev1_t_filt, e1, BLUE, 1.2)
    line(n0 + 2, ev2_t_filt, e2, RED, 1.2)
    for k in range(3):
        hline(n0 + k, thresholds[r])
    for e in range(2):
        vline(n0 + 1 + e, event_times[e], 0, 1.0 if r == 0 else 0.97, width=1.6,
              dash="10px,6px", color=TC)

# peak markers
for e, col in enumerate([BLUE, RED]):
    traces.append(go.Scatter(x=[event_times[e]], y=[peak_vals[e]], xaxis="x" + str(8 + e),
                             yaxis="y" + str(8 + e), mode="markers",
                             marker=dict(color=col, size=9), hoverinfo="skip", showlegend=False,
                             cliponaxis=False))

# ---- Section B axes
bt = [-0.06, -0.04, -0.02, 0, 0.02, 0.04, 0.06]
wave_panels = [
    (13, (127, 522.6), (821, 1096), [-1000, 1000], [-1000, -500, 0, 500, 1000], srsr_t, srsr_v, srsr_sem, BLUE, BLUE_F),
    (14, (647.5, 1045), (821, 1096), [-400, 600], [-400, -200, 0, 200, 400, 600], plsr_t, plsr_v, plsr_sem, RED, RED_F),
    (15, (127, 522.6), (1203.3, 1478.3), [-100, 300], [-100, 0, 100, 200, 300], srpl_t, srpl_v, srpl_sem, BLUE, BLUE_F),
    (16, (647.5, 1045), (1203.3, 1478.3), [-500, 2000], [-500, 0, 500, 1000, 1500, 2000], plpl_t, plpl_v, plpl_sem, RED, RED_F),
]
for n, xp, yp, yr, yt, tt, vv, ss, col, fcol in wave_panels:
    axes(n, xp, yp, [-0.08, 0.08], yr, bt, yt, 4)
    shp = "linear" if n == 13 else "spline"
    band(n, tt, vv, ss, fcol, shp)
    line(n, tt, vv, col, 2.8, shape=shp)
    vline(n, 0, 0, 1)

te_y = [(837.3, 992), (1079, 1234), (1320.7, 1476)]
te_x = [(1163, 1559), (1684, 2081)]
te_series = [
    [(te_cause_blue, te_cause_blue_sem, te_cause_red, te_cause_red_sem),
     (te_effect_blue, te_effect_blue_sem, te_effect_red, te_effect_red_sem)],
    [(dcs_cause_blue, dcs_cause_blue_sem, dcs_cause_red, dcs_cause_red_sem),
     (dcs_effect_blue, dcs_effect_blue_sem, dcs_effect_red, dcs_effect_red_sem)],
    [(rdcs_cause_blue, rdcs_cause_blue_sem, rdcs_cause_red, rdcs_cause_red_sem),
     (rdcs_effect_blue, rdcs_effect_blue_sem, rdcs_effect_red, rdcs_effect_red_sem)],
]
legend_names = [legend_cause, legend_effect]
n = 17
for r in range(3):
    for c in range(2):
        axes(n, te_x[c], te_y[r], [-0.08, 0.08], [0, 0.4], bt, [0, 0.2, 0.4], 4)
        b, bs, rd, rs = te_series[r][c]
        band(n, t_te, b, bs, BLUE_F)
        band(n, t_te, rd, rs, RED_F)
        if r == 0:
            lg = "legend" if c == 0 else "legend2"
            line(n, t_te, b, BLUE, 2.4, name=legend_names[c][0], legend=lg)
            line(n, t_te, rd, RED, 2.4, name=legend_names[c][1], legend=lg)
        else:
            line(n, t_te, b, BLUE, 2.4)
            line(n, t_te, rd, RED, 2.4)
        vline(n, 0, 0, 0.98)
        n += 1

# ---- Text
text(22, 28, "A", size=32, color="black")
text(14, 764, "B", size=32, color="black")
text(866, 26, "Original Signal", bold=True, color="black")
text(1705.5, 26, "Detected Events", bold=True, color="black")
text(866, 389, "Detection Signal (Filtered in [140,230]Hz)", bold=True, color="black")
text(324, 805, "Event waveforms(sr|sr)", bold=True, color="black")
text(846, 805, "Event waveforms(pl|sr)", bold=True, color="black")
text(324, 1187, "Event waveforms(sr|pl)", bold=True, color="black")
text(846, 1187, "Event waveforms(pl|pl)", bold=True, color="black")
text(1360, 822, "Aligned by putative cause", bold=True, color="black")
text(1883, 822, "Aligned by putative effect", bold=True, color="black")

text(105, 106, "CA3 LFP (mV)", angle=-90)
text(105, 282, "CA1 LFP (mV)", angle=-90)
text(101, 459.5, "Filtered<br>CA3 LFP (mV)", angle=-90)
text(101, 635, "Filtered<br>CA1 LFP (mV)", angle=-90)
text(53, 958.5, "LFP (mV)", angle=-90)
text(584, 958.5, "LFP (mV)", angle=-90)
text(63, 1341, "LFP (mV)", angle=-90)
text(580, 1341, "LFP (mV)", angle=-90)
for xx in (1112, 1633):
    text(xx, 915, "TE", angle=-90)
    text(xx, 1156.5, "DCS", angle=-90)
    text(xx - 1, 1398, "rDCS", angle=-90)

text(866, 748, "Time (ms)")
text(1705.5, 748, "Time (ms)")
text(1944.5, 748, "Time (ms)")
text(1360, 1042, "Time (ms)")
text(1883, 1042, "Time (ms)")
text(323, 1528, "Peri-event time t\u2032 (ms)")
text(845, 1528, "Peri-event time t\u2032 (ms)")
text(1360, 1527, "Peri-event time t\u2032 (ms)")
text(1883, 1527, "Peri-event time t\u2032 (ms)")

leg_common = dict(xanchor="left", yanchor="top", bgcolor="rgba(0,0,0,0)",
                  font=dict(family=FONT, size=18, color=TC), tracegroupgap=0, itemwidth=30,
                  borderwidth=0)
layout["legend"] = dict(x=X(1387) / W, y=1 - Y(851) / H, **leg_common)
layout["legend2"] = dict(x=X(1907) / W, y=1 - Y(851) / H, **leg_common)

fig = go.Figure(data=traces, layout=go.Layout(**layout))
fig.update_layout(width=W, height=H, margin=dict(l=0, r=0, t=0, b=0),
                  paper_bgcolor="white", plot_bgcolor="white", hovermode=False,
                  shapes=shapes, annotations=annotations, showlegend=True,
                  font=dict(family=FONT, color=TC))
fig.write_html("out.html", config={"displayModeBar": False},
               post_script="document.body.style.margin='0';document.body.style.overflow='hidden';")
